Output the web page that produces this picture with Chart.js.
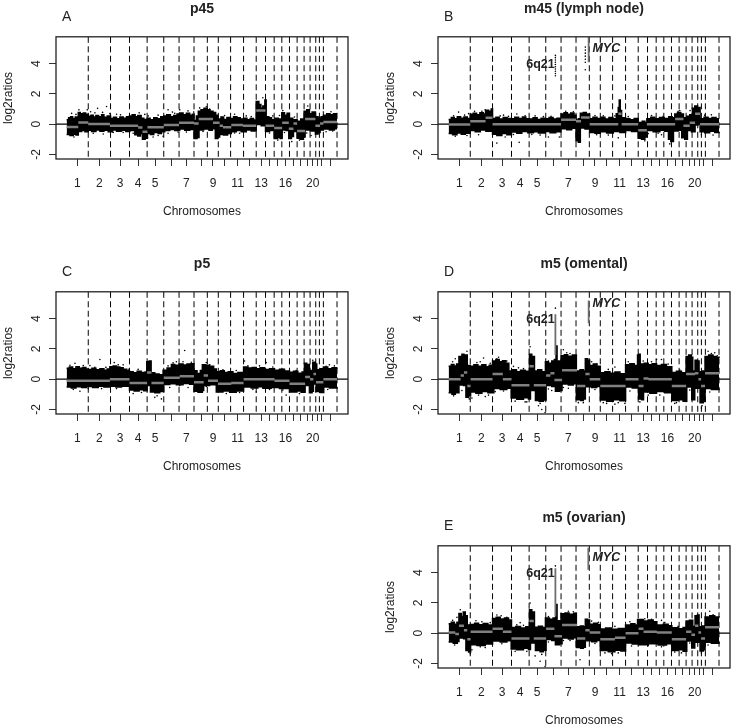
<!DOCTYPE html>
<html lang="en">
<head>
<meta charset="UTF-8">
<title>log2ratios by chromosome</title>
<style>
  body { margin: 0; background: #fff; }
  canvas { position: absolute; }
</style>
</head>
<body>
<canvas id="pA" width="352" height="228" style="left:0;top:0"></canvas>
<canvas id="pB" width="352" height="228" style="left:382px;top:0"></canvas>
<canvas id="pC" width="352" height="228" style="left:0;top:255px"></canvas>
<canvas id="pD" width="352" height="228" style="left:382px;top:255px"></canvas>
<canvas id="pE" width="352" height="228" style="left:382px;top:509px"></canvas>

<script src="https://cdn.jsdelivr.net/npm/chart.js"></script>
<script>
// genome position along x, end of each chromosome (dashed lines)
const chrEnds = [65,132,189,242,292,338,383,423,456,493,532,570,598,624,647,670,693,714,732,749,760,772,813];
// tick in the middle of each chromosome, R drops the labels that would overlap
const chrMids = [32,98,161,215,266,314,360,404,440,476,514,551,585,611,635,658,682,703,723,740,754,766,792];
const chrLabels = ['1','2','3','4','5','','7','','9','','11','','13','','','16','','','','20','','',''];
const yTicks = [-2,0,2,4];
const xRange = [-32,846];
const yRange = [-2.3,5.78];

// band of probes: [x where the level starts, log2 ratio]
const aUpper = [[0,.3],[6,.42],[12,.5],[18,.38],[26,.47],[35,.78],[41,.7],[50,.74],[57,.66],[65,.52],[73,.6],[80,.48],[88,.58],[96,.5],[105,.62],[112,.46],[122,.55],[132,.38],[141,.46],[150,.36],[160,.48],[170,.4],[180,.5],[189,.55],[197,.62],[206,.5],[214,.58],[224,.4],[232,.32],[242,.4],[251,.3],[262,.42],[272,.36],[283,.5],[292,.55],[301,.62],[312,.5],[322,.58],[332,.68],[340,.74],[350,.62],[360,.72],[370,.6],[378,.66],[383,.25],[390,.55],[396,.85],[404,.95],[413,1.05],[422,.95],[431,.85],[440,.78],[448,.6],[455,.35],[464,.48],[472,.32],[482,.45],[492,.38],[502,.5],[512,.42],[522,.35],[532,.4],[542,.3],[552,.38],[562,.28],[570,1.5],[578,1.3],[584,1.05],[590,1.2],[596,1.6],[600,.5],[608,.42],[616,.3],[626,.4],[636,.35],[647,.75],[655,.6],[663,.72],[670,.4],[680,.3],[693,.2],[704,.35],[714,.85],[722,.95],[730,.7],[738,.8],[748,.5],[756,.4],[765,.5],[772,.6],[782,.7],[792,.62],[802,.7],[813,.7]];
const aLower = [[0,-.68],[10,-.75],[20,-.66],[28,-.72],[35,-.48],[45,-.42],[55,-.5],[65,-.4],[75,-.48],[88,-.38],[100,-.46],[112,-.4],[125,-.5],[138,-.38],[150,-.46],[165,-.4],[178,-.48],[190,-.42],[205,-.7],[214,-.78],[222,-.62],[228,-1],[236,-.92],[243,-.62],[252,-.68],[262,-.55],[275,-.62],[285,-.5],[295,-.42],[310,-.35],[325,-.42],[340,-.32],[355,-.4],[370,-.35],[383,-.95],[392,-.88],[398,-.38],[412,-.32],[428,-.4],[438,-.3],[447,-.95],[455,-.85],[460,-.68],[472,-.72],[484,-.62],[495,-.5],[510,-.42],[525,-.5],[540,-.38],[555,-.45],[570,-.02],[585,-.1],[598,-.48],[610,-.42],[624,-.95],[634,-.88],[642,-.95],[648,-.38],[660,-.42],[668,-.95],[676,-.82],[682,-.48],[693,-.92],[703,-1],[712,-.85],[717,-.38],[732,-.45],[748,-.65],[756,-.55],[762,-.38],[772,-.32],[790,-.38],[805,-.3],[813,-.3]];
const aSeg = [[0,-.18],[35,.12],[65,.02],[130,-.1],[215,-.22],[228,-.5],[243,-.2],[292,-.05],[338,.1],[383,.05],[397,.35],[440,.1],[460,-.1],[470,-.2],[495,-.05],[530,-.1],[570,.9],[598,-.1],[624,-.25],[648,.1],[668,-.3],[682,.05],[693,-.45],[717,.35],[748,-.1],[762,.05],[772,.15],[813,.15]];
const aSpecks = [[120,1.17],[93,1.05],[37,.95],[150,.66],[305,.95],[340,.95],[62,.95],[200,-.6],[260,-.85],[290,-.8],[305,-.6],[677,-1.15],[635,-1.05],[735,-.75],[700,-1.05],[725,1.2],[650,.9],[590,1.75],[235,.65],[420,1.15],[110,-.65],[170,-.55],[520,-.6],[28,.65],[400,1.08],[15,.72],[72,.82],[85,.75],[130,.7],[108,.78],[162,.62],[218,.75],[245,.55],[275,.6],[318,.8],[325,.72],[365,.88],[382,.8],[430,1],[475,.58],[505,.66],[540,.55],[555,.5],[620,.55],[640,.58],[685,.48],[772,.8],[795,.82],[80,-.6],[140,-.55],[22,-.85],[275,-.75],[335,-.52],[360,-.52],[410,-.48],[505,-.58],[610,-.58],[655,-.55],[722,-.58],[780,-.5],[800,-.45]];
const aSpikes = [];

const bUpper = [[0,.32],[8,.44],[17,.36],[26,.5],[36,.4],[46,.48],[56,.38],[65,.66],[74,.72],[84,.62],[94,.75],[104,.68],[111,.92],[120,.86],[128,1],[132,.38],[142,.46],[152,.34],[164,.44],[176,.38],[189,.36],[199,.46],[210,.38],[222,.48],[232,.36],[243,.34],[254,.42],[266,.32],[278,.4],[290,.36],[302,.44],[314,.34],[326,.4],[338,.68],[347,.76],[357,.66],[367,.74],[377,.6],[383,.28],[390,.36],[396,.72],[405,.78],[414,.68],[424,.36],[434,.46],[446,.38],[458,.46],[470,.34],[482,.44],[494,.36],[504,.7],[510,1.1],[513,1.6],[516,.9],[520,.42],[532,.36],[545,.3],[558,.38],[570,.12],[582,.2],[590,.1],[596,.36],[608,.46],[620,.36],[634,.44],[648,.38],[662,.5],[672,.42],[680,.68],[688,.78],[698,.68],[706,.42],[716,.52],[725,.62],[733,1.05],[740,1.2],[748,1.1],[756,.36],[768,.46],[780,.38],[792,.44],[804,.36],[813,.36]];
const bLower = [[0,-.62],[12,-.7],[25,-.58],[38,-.66],[50,-.6],[65,-.42],[80,-.5],[95,-.38],[112,-.46],[132,-.66],[145,-.74],[160,-.62],[175,-.7],[189,-.52],[205,-.6],[220,-.48],[238,-.56],[255,-.5],[270,-.58],[290,-.48],[305,-.56],[322,-.5],[338,-.3],[355,-.36],[370,-.26],[383,-1.1],[390,-1.2],[396,-.25],[410,-.32],[424,-.54],[440,-.6],[456,-.5],[475,-.58],[495,-.48],[515,-.55],[532,-.42],[550,-.48],[570,-.92],[580,-1],[590,-.85],[596,-.42],[615,-.5],[635,-.4],[650,-.46],[661,-1],[668,-1.15],[676,-.45],[690,-.4],[701,-.9],[710,-1],[718,-.42],[730,-.5],[741,-.05],[750,.05],[756,-.5],[770,-.56],[785,-.46],[800,-.54],[813,-.5]];
const bSeg = [[0,-.02],[65,.2],[111,.42],[132,0],[338,.3],[383,.2],[398,.45],[424,0],[510,.7],[520,0],[570,-.4],[596,0],[681,.35],[706,-.1],[725,.1],[741,.7],[756,0],[813,0]];
const bSpecks = [[321,3.2],[321,3.35],[321,3.5],[321,3.65],[321,3.8],[321,3.95],[321,4.1],[321,4.25],[321,4.4],[321,4.55],[411,3.6],[411,4.1],[411,4.3],[411,4.5],[411,4.7],[411,4.9],[411,5.1],[30,.8],[60,.7],[110,.95],[205,.68],[165,.6],[212,-1.2],[145,-1.25],[90,-.7],[300,-.85],[333,-.85],[510,-.9],[665,-1.3],[640,-.7],[726,.9],[590,-1.1],[15,.55],[48,.6],[78,.85],[100,.85],[155,.55],[180,.52],[230,.56],[260,.55],[285,.5],[308,.52],[352,.85],[375,.82],[440,.58],[465,.55],[500,.55],[540,.5],[610,.58],[645,.52],[690,.85],[695,.9],[770,.6],[790,.62],[20,-.8],[55,-.75],[170,-.85],[195,-.68],[250,-.68],[275,-.72],[445,-.7],[480,-.72],[600,-.62],[630,-.6],[760,-.7],[795,-.72]];
const bSpikes = [[421,4.1,5.75]];

const cUpper = [[0,.72],[8,.8],[18,.7],[28,.82],[38,.72],[48,.78],[58,.68],[65,.65],[76,.72],[88,.62],[100,.7],[112,.6],[122,.68],[130,.82],[140,.88],[150,.8],[160,.76],[170,.66],[180,.56],[189,.5],[200,.42],[212,.52],[224,.44],[236,.48],[241,1.15],[248,1.2],[254,.42],[265,.34],[278,.3],[290,.6],[302,.74],[315,.98],[325,.92],[338,1],[350,.94],[362,1],[374,1.02],[383,.56],[392,.38],[402,.58],[408,.96],[418,.92],[430,.86],[442,.68],[450,.5],[462,.56],[474,.44],[486,.5],[500,.38],[515,.44],[532,.8],[545,.74],[558,.78],[570,.7],[582,.76],[595,.64],[610,.7],[625,.6],[640,.66],[655,.54],[670,.46],[682,.52],[695,.4],[708,.48],[715,1.05],[722,.98],[730,.58],[740,1.12],[748,1],[752,.62],[764,.7],[772,.8],[785,.7],[798,.76],[813,.78]];
const cLower = [[0,-.52],[14,-.58],[28,-.5],[45,-.55],[60,-.48],[78,-.54],[95,-.46],[112,-.52],[130,-.46],[148,-.52],[165,-.46],[189,-.72],[203,-.78],[218,-.7],[232,-.76],[242,-.42],[252,-.85],[265,-.9],[280,-.82],[292,-.35],[310,-.3],[330,-.36],[350,-.28],[370,-.34],[383,-.8],[395,-.86],[408,-.75],[412,-.42],[430,-.36],[450,-.84],[470,-.78],[490,-.86],[510,-.78],[532,-.52],[555,-.58],[575,-.5],[590,-.6],[615,-.55],[640,-.62],[670,-.85],[690,-.78],[705,-.86],[717,-.42],[725,-.38],[730,-.9],[738,-.8],[742,-.32],[750,-.82],[762,-.88],[773,-.52],[790,-.58],[813,-.52]];
const cSeg = [[0,-.1],[130,0],[189,-.25],[242,.45],[255,-.25],[292,.1],[340,.2],[383,-.2],[412,.25],[425,-.1],[455,-.3],[495,-.25],[532,0],[625,-.1],[670,-.3],[717,.15],[732,0],[742,.35],[750,-.2],[772,0],[813,0]];
const cSpecks = [[100,1.3],[355,1.9],[25,1.05],[70,.9],[143,1.1],[170,.95],[330,1.15],[350,1.15],[420,1.1],[535,1.2],[600,1.1],[740,1.25],[265,-1.2],[285,-1.3],[272,-1.1],[310,-.55],[660,-1.05],[40,-.8],[200,-.95],[480,-.95],[790,.95],[140,.3],[345,.2],[570,-.85],[365,-.55],[10,.92],[50,.9],[85,.78],[118,.78],[155,.95],[185,.66],[215,.65],[305,.88],[320,1.08],[375,1.12],[430,.96],[470,.62],[510,.58],[545,.88],[580,.88],[620,.8],[650,.66],[690,.58],[780,.86],[805,.88],[20,-.68],[65,-.62],[105,-.62],[150,-.62],[225,-.88],[340,-.42],[420,-.48],[520,-.88],[560,-.68],[610,-.68],[650,-.72],[700,-.95],[785,-.68]];
const cSpikes = [];

const dUpper = [[0,.85],[8,.98],[16,.88],[24,1],[31,1.5],[36,1.3],[40,1.65],[46,1.35],[50,1.6],[56,.9],[65,.85],[76,.95],[88,.85],[100,.95],[112,.82],[122,.92],[132,1.2],[142,1.3],[152,1.15],[162,1.22],[172,1.05],[181,.55],[192,.62],[204,.5],[216,.6],[230,.52],[243,1.65],[250,1.5],[258,.55],[268,.62],[280,.5],[291,1.15],[300,1.05],[310,1.2],[318,1.3],[323,2.2],[326,1.2],[338,1.55],[348,1.62],[358,1.52],[372,1.6],[384,.55],[395,.62],[405,.55],[411,1.35],[418,1.25],[424,.9],[435,1],[446,.85],[456,.42],[470,.5],[485,.4],[500,.48],[515,.36],[532,.95],[545,1.02],[558,.9],[568,1.6],[572,1.65],[576,1],[588,1.05],[600,.95],[612,1.02],[625,.9],[640,.98],[655,.82],[671,.45],[685,.52],[700,.42],[714,1.5],[722,1.6],[730,1.45],[734,.55],[741,1.25],[748,1.2],[753,.5],[762,.55],[771,1.5],[782,1.6],[795,1.5],[805,1.45],[813,1.4]];
const dLower = [[0,-.9],[10,-1],[20,-.9],[31,-.38],[45,-.42],[52,-1.2],[60,-1.1],[66,-.85],[82,-.92],[100,-.82],[118,-.9],[136,-.62],[155,-.68],[175,-.6],[188,-1.25],[205,-1.32],[225,-1.22],[240,-1.3],[246,-.05],[250,-.75],[261,-1.4],[272,-1.45],[285,-1.38],[293,-.42],[310,-.48],[321,-.8],[334,-.75],[341,-.32],[360,-.38],[375,-.3],[384,-1.35],[397,-1.4],[405,-1.3],[411,-.5],[430,-.55],[445,-.48],[456,-1.38],[475,-1.45],[495,-1.35],[515,-1.42],[532,-.52],[552,-.58],[571,-1.3],[581,-1.35],[586,-.85],[605,-.92],[625,-.82],[650,-.9],[671,-1.4],[690,-1.35],[705,-1.45],[716,-.52],[726,-.5],[731,-1.35],[740,-.6],[756,-1.55],[766,-1.45],[771,-.62],[790,-.68],[813,-.6]];
const dSeg = [[0,0],[36,.25],[46,.45],[56,-.45],[66,0],[132,.35],[163,0],[189,-.4],[243,.85],[256,-.4],[293,.25],[306,.4],[318,-.05],[341,.6],[386,-.45],[411,.35],[424,0],[456,-.45],[532,0],[571,-.45],[586,.05],[601,0],[671,-.45],[714,.35],[741,.4],[751,0],[759,-.45],[771,.4],[813,.4]];
const dSpecks = [[321,4.7],[105,1.4],[150,1.45],[195,.85],[245,2.15],[270,-1.75],[290,-2.2],[280,-2],[230,-1.5],[55,1.85],[70,-1.25],[110,-1.15],[345,1.95],[475,-1.6],[500,-1.65],[640,1.3],[680,-1.6],[780,1.85],[800,1.75],[760,-1.9],[625,1.3],[530,-1.6],[310,-.75],[40,-.75],[405,-1.55],[20,1.35],[500,.8],[120,-1.05],[12,1.15],[85,1.1],[95,1.15],[125,1.05],[145,1.35],[175,1.2],[210,.75],[225,.7],[300,1.2],[355,1.75],[365,1.7],[430,1.15],[445,1],[480,.65],[540,1.15],[585,1.2],[610,1.15],[660,1],[695,.6],[790,1.7],[808,1.55],[15,-1.1],[62,-1.3],[90,-1.05],[140,-.82],[165,-.78],[200,-1.45],[235,-1.5],[275,-1.6],[300,-.65],[345,-.55],[360,-.6],[390,-1.55],[440,-.68],[465,-1.55],[510,-1.55],[545,-.78],[575,-1.5],[600,-1.05],[635,-1.05],[685,-1.55],[725,-.72],[762,-1.75],[785,-.85]];
const dSpikes = [[321,1.6,4.3],[421,3.7,5.2]];

const eUpper = [[0,.62],[8,.72],[17,.6],[25,.72],[31,1.3],[38,1.1],[44,1.4],[50,1.15],[56,.55],[65,.58],[78,.66],[90,.56],[104,.64],[118,.54],[132,.98],[143,1.05],[155,.94],[168,1],[180,.88],[189,.38],[202,.44],[216,.34],[232,.42],[243,1.55],[250,1.4],[258,.4],[270,.46],[282,.38],[291,1],[303,.92],[314,1],[322,1.9],[326,.82],[338,1.28],[350,1.34],[362,1.26],[376,1.32],[384,.42],[396,.48],[405,.42],[411,.92],[418,.88],[424,.6],[436,.66],[448,.56],[456,.28],[472,.34],[490,.26],[510,.32],[532,.55],[548,.62],[560,.55],[568,.9],[585,.8],[600,.88],[615,.76],[626,.55],[645,.6],[660,.5],[671,.36],[690,.3],[705,.38],[714,.8],[724,.85],[734,.45],[741,1.15],[748,1.2],[753,.42],[763,.48],[771,1.08],[785,1.15],[800,1.08],[813,1.05]];
const eLower = [[0,-.58],[14,-.66],[26,-.55],[31,-.32],[45,-.36],[52,-1.15],[60,-1.25],[66,-.76],[85,-.82],[110,-.72],[132,-.52],[155,-.58],[175,-.5],[188,-1.05],[205,-1.1],[225,-1],[240,-1.08],[246,-.05],[250,-.65],[261,-1.15],[275,-1.22],[285,-1.12],[293,-.42],[310,-.48],[321,-.76],[334,-.7],[341,-.32],[360,-.38],[375,-.3],[384,-.95],[397,-1],[405,-.92],[411,-.5],[430,-.56],[445,-.48],[456,-1.15],[480,-1.22],[500,-1.12],[518,-1.18],[532,-.65],[552,-.72],[571,-.76],[600,-.7],[630,-.78],[655,-.7],[671,-1.15],[690,-1.1],[705,-1.2],[716,-.52],[726,-.48],[731,-.98],[740,-.6],[756,-1.18],[766,-1.1],[771,-.6],[790,-.66],[813,-.58]];
const eSeg = [[0,.05],[20,-.05],[31,.5],[46,.2],[56,-.4],[66,.1],[132,.3],[163,.1],[189,-.35],[243,.8],[256,-.35],[293,.3],[318,-.2],[341,.55],[386,-.35],[411,.2],[424,.05],[456,-.4],[500,-.3],[532,0],[571,.3],[586,.1],[626,.05],[671,-.4],[714,.1],[730,-.1],[741,.5],[751,.05],[759,-.35],[771,.4],[813,.4]];
const eSpecks = [[321,4.45],[275,-1.85],[290,-2.2],[245,2],[395,-1.75],[25,1.05],[70,-1.1],[145,1.2],[215,.7],[470,-1.3],[640,.85],[785,1.45],[800,.95],[110,-.95],[400,-.9],[35,1.55],[530,-1.05],[700,-1.3],[280,-1.4],[260,-1.5],[12,.85],[82,.82],[100,.75],[125,.7],[158,1.15],[175,1.05],[205,.55],[225,.52],[300,1.1],[360,1.45],[375,1.42],[430,.8],[450,.72],[500,.45],[545,.75],[590,.95],[610,.92],[650,.7],[690,.45],[795,1.22],[18,-.78],[65,-1.35],[95,-.9],[160,-.7],[200,-1.2],[235,-1.2],[300,-.58],[345,-.48],[365,-.48],[440,-.68],[490,-1.35],[510,-1.3],[550,-.85],[600,-.82],[640,-.9],[680,-1.25],[725,-.65],[760,-1.3],[780,-.78]];
const eSpikes = [[321,1.1,4.3],[420,4.2,5.65]];

const panelLetters = ['A','B','C','D','E'];
const panelTitles = ['p45','m45 (lymph node)','p5','m5 (omental)','m5 (ovarian)'];
// text next to the amplified probes: [text, x, y]
const geneLabels = [['6q21',276,3.97,'bold 12.5px "Liberation Sans"'],['MYC',474,5.02,'italic bold 12.5px "Liberation Sans"']];

Chart.defaults.font.family = '"Liberation Sans", Arial, sans-serif';
Chart.defaults.font.size = 12;
Chart.defaults.color = '#222';

// expand [start, level] pairs to a step outline
function steps(arr) {
  const out = [];
  arr.forEach((p, i) => {
    if (i > 0) out.push({x: p[0], y: arr[i - 1][1]});
    out.push({x: p[0], y: p[1]});
  });
  return out;
}

// segment means are separate horizontal pieces
function levels(arr) {
  const out = [];
  arr.slice(0, -1).forEach((p, i) => {
    out.push({x: p[0], y: p[1]}, {x: arr[i + 1][0], y: p[1]}, {x: p[0], y: null});
  });
  return out;
}

function vLines(list) {
  const out = [];
  list.forEach(p => {
    out.push({x: p[0], y: p[1]}, {x: p[0], y: p[2]}, {x: p[0], y: null});
  });
  return out;
}

// draws box, panel letter and the gene labels
const panelText = {
  id: 'panelText',
  afterDraw(chart, args, opts) {
    const c = chart.ctx, a = chart.chartArea;
    c.save();
    c.strokeStyle = '#222';
    c.lineWidth = 1.3;
    c.strokeRect(a.left, a.top, a.width, a.height);
    c.fillStyle = '#222';
    c.textBaseline = 'middle';
    c.textAlign = 'left';
    c.font = '14px "Liberation Sans"';
    c.fillText(opts.letter, a.left + 6, 17);
    if (opts.genes) {
      c.textAlign = 'center';
      geneLabels.forEach(g => {
        c.font = g[3];
        c.fillText(g[0], chart.scales.x.getPixelForValue(g[1]), chart.scales.y.getPixelForValue(g[2]));
      });
    }
    c.restore();
  }
};

function drawPanel(id, letter, title, upper, lower, seg, specks, spikes, genes) {
  const dashes = [];
  chrEnds.forEach(b => {
    dashes.push({x: b, y: yRange[1]}, {x: b, y: yRange[0]}, {x: b, y: null});
  });
  return new Chart(document.getElementById(id), {
    type: 'scatter',
    plugins: [panelText],
    data: {
      datasets: [
        {data: steps(upper), showLine: true, fill: '+1', backgroundColor: '#000', borderColor: '#000', borderWidth: 1.5, pointRadius: 0, order: 5},
        {data: steps(lower), showLine: true, borderColor: '#000', borderWidth: 1.5, pointRadius: 0, order: 5},
        {data: specks.map(p => ({x: p[0], y: p[1]})), pointRadius: 0.8, pointBorderWidth: 0, pointBackgroundColor: '#000', order: 4},
        {data: xRange.map(x => ({x: x, y: 0})), showLine: true, borderColor: '#000', borderWidth: 1.2, pointRadius: 0, order: 3},
        {data: dashes, showLine: true, spanGaps: false, borderColor: '#000', borderWidth: 1, borderDash: [6, 3.5], pointRadius: 0, order: 2},
        {data: vLines(spikes), showLine: true, spanGaps: false, borderColor: '#6e6e6e', borderWidth: 1.8, pointRadius: 0, order: 1},
        {data: levels(seg), showLine: true, spanGaps: false, borderColor: '#808080', borderWidth: 2.5, pointRadius: 0, order: 0}
      ]
    },
    options: {
      responsive: false,
      animation: false,
      devicePixelRatio: 1,
      layout: {padding: {right: 3}},
      plugins: {
        legend: {display: false},
        tooltip: {enabled: false},
        title: {display: true, text: title, fullSize: false, color: '#222', font: {size: 14, weight: 'bold'}, padding: {top: 1, bottom: 19}},
        panelText: {letter: letter, genes: genes}
      },
      scales: {
        x: {
          min: xRange[0], max: xRange[1],
          afterBuildTicks: s => { s.ticks = chrMids.map(v => ({value: v})); },
          afterFit: s => { s.height = 69; },
          grid: {drawOnChartArea: false, tickLength: 7, color: '#333'},
          border: {display: false},
          ticks: {autoSkip: false, maxRotation: 0, padding: 10, callback: (v, i) => chrLabels[i]},
          title: {display: true, text: 'Chromosomes', padding: {top: 0, bottom: 9}}
        },
        y: {
          min: yRange[0], max: yRange[1],
          afterBuildTicks: s => { s.ticks = yTicks.map(v => ({value: v})); },
          afterFit: s => { s.width = 56; },
          grid: {drawOnChartArea: false, tickLength: 7, color: '#333'},
          border: {display: false},
          ticks: {minRotation: 90, maxRotation: 90, crossAlign: 'center', padding: 7},
          title: {display: true, text: 'log2ratios', padding: {top: 1, bottom: 0}}
        }
      }
    }
  });
}

drawPanel('pA', panelLetters[0], panelTitles[0], aUpper, aLower, aSeg, aSpecks, aSpikes, false);
drawPanel('pB', panelLetters[1], panelTitles[1], bUpper, bLower, bSeg, bSpecks, bSpikes, true);
drawPanel('pC', panelLetters[2], panelTitles[2], cUpper, cLower, cSeg, cSpecks, cSpikes, false);
drawPanel('pD', panelLetters[3], panelTitles[3], dUpper, dLower, dSeg, dSpecks, dSpikes, true);
drawPanel('pE', panelLetters[4], panelTitles[4], eUpper, eLower, eSeg, eSpecks, eSpikes, true);
</script>
</body>
</html>
